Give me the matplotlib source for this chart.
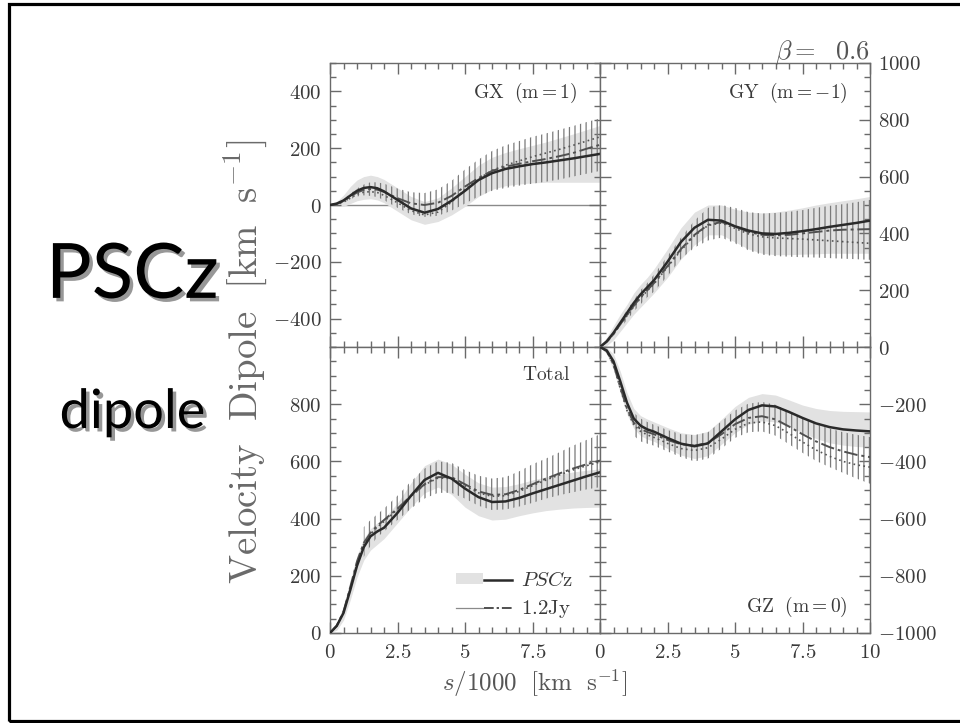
import numpy as np
import matplotlib
matplotlib.use("Agg")
import matplotlib.pyplot as plt
from matplotlib.ticker import FixedLocator, MultipleLocator, FixedFormatter
from matplotlib.legend_handler import HandlerTuple
from matplotlib.patches import Patch, Rectangle
from matplotlib.lines import Line2D
import matplotlib.patheffects as pe

nan = np.nan

# distance grid s/1000 [km/s]
S = [0, 0.25, 0.5, 0.75, 1, 1.25, 1.5, 1.75, 2, 2.5, 3, 3.5, 4, 4.5, 5,
     5.5, 6, 6.5, 7, 7.5, 8, 8.5, 9, 9.5, 10]

# ---- GX (m=1)
gx_pscz = [0, 5, 16, 33, 50, 60, 63, 59, 48, 18, -12, -27, -14, 15, 50, 88, 112, 127, 136, 144, 150, 157, 164, 172, 180]
gx_pscz_hi = [0, 12, 35, 65, 88, 100, 105, 100, 90, 60, 30, 12, 25, 60, 100, 140, 168, 185, 198, 210, 222, 236, 250, 265, 280]
gx_pscz_lo = [0, -5, -5, 5, 15, 20, 22, 18, 8, -22, -52, -68, -58, -35, -5, 30, 55, 68, 74, 78, 80, 80, 80, 80, 80]
gx_jy = [0, 4, 14, 30, 44, 53, 56, 54, 46, 24, 6, 0, 8, 32, 65, 95, 120, 135, 145, 154, 162, 172, 183, 198, 212]
gx_jy_hi = [nan, nan, 20, 40, 58, 72, 80, 80, 75, 58, 45, 42, 55, 85, 125, 160, 190, 210, 225, 240, 252, 265, 278, 292, 305]
gx_jy_lo = [nan, nan, 8, 20, 30, 34, 32, 28, 17, -10, -33, -42, -38, -20, 5, 30, 50, 60, 68, 75, 82, 90, 100, 110, 120]
gx_dot = [0, 3, 10, 24, 38, 45, 47, 44, 34, 8, -20, -35, -25, 10, 55, 92, 122, 140, 155, 170, 183, 196, 210, 225, 240]

# ---- GY (m=-1)
gy_pscz = [0, 20, 50, 85, 120, 155, 185, 210, 235, 300, 370, 420, 448, 445, 425, 410, 400, 398, 402, 408, 415, 423, 430, 437, 445]
gy_pscz_hi = [0, 35, 75, 115, 150, 190, 220, 245, 275, 345, 420, 475, 500, 500, 485, 475, 472, 475, 482, 490, 500, 508, 515, 522, 530]
gy_pscz_lo = [0, 5, 25, 55, 85, 115, 140, 165, 190, 245, 310, 360, 395, 395, 370, 345, 330, 325, 325, 327, 328, 330, 330, 330, 330]
gy_jy = [0, 18, 45, 80, 112, 145, 175, 200, 225, 285, 345, 395, 430, 440, 425, 405, 395, 393, 395, 400, 405, 410, 413, 414, 415]
gy_jy_hi = [nan, nan, nan, 95, 130, 165, 200, 225, 255, 320, 385, 445, 490, 500, 490, 475, 470, 472, 476, 482, 490, 497, 503, 510, 518]
gy_jy_lo = [nan, nan, nan, 65, 95, 125, 150, 175, 195, 250, 310, 350, 375, 385, 365, 340, 325, 320, 318, 316, 315, 313, 311, 309, 307]
gy_dot = [0, 18, 45, 80, 110, 142, 172, 198, 222, 282, 340, 392, 428, 437, 418, 398, 388, 384, 382, 380, 377, 374, 371, 368, 365]

# ---- Total
tot_pscz = [0, 25, 70, 150, 235, 300, 338, 355, 368, 420, 480, 535, 560, 540, 505, 475, 458, 460, 472, 488, 503, 518, 533, 548, 562]
tot_pscz_hi = [0, 35, 95, 185, 270, 330, 365, 385, 400, 455, 525, 585, 608, 590, 555, 525, 510, 512, 522, 535, 546, 555, 563, 569, 574]
tot_pscz_lo = [0, 10, 45, 115, 195, 255, 290, 310, 330, 385, 440, 490, 510, 485, 440, 410, 395, 398, 410, 420, 428, 433, 437, 439, 440]
tot_jy = [0, 25, 75, 160, 250, 315, 350, 375, 395, 435, 480, 520, 545, 545, 520, 495, 483, 485, 500, 520, 540, 558, 575, 590, 603]
tot_jy_hi = [nan, nan, nan, nan, nan, 370, 395, 415, 435, 480, 530, 575, 600, 595, 570, 550, 540, 545, 565, 590, 610, 632, 655, 675, 695]
tot_jy_lo = [nan, nan, nan, nan, nan, 265, 305, 335, 355, 395, 435, 470, 490, 490, 470, 445, 430, 432, 442, 455, 470, 482, 492, 502, 510]
tot_dot = [0, 25, 72, 155, 245, 310, 345, 370, 390, 432, 478, 518, 542, 540, 515, 490, 478, 480, 495, 515, 535, 553, 570, 585, 598]

# ---- GZ (m=0)
gz_pscz = [0, -12, -50, -120, -195, -250, -275, -288, -296, -318, -338, -347, -337, -295, -253, -220, -204, -208, -227, -248, -267, -280, -288, -292, -295]
gz_pscz_hi = [0, -2, -25, -85, -160, -215, -240, -252, -262, -282, -300, -306, -295, -253, -208, -176, -163, -168, -185, -203, -215, -222, -225, -226, -227]
gz_pscz_lo = [0, -25, -80, -160, -235, -285, -310, -322, -330, -355, -378, -390, -380, -340, -300, -270, -258, -262, -278, -300, -320, -335, -343, -348, -350]
gz_jy = [0, -15, -60, -140, -215, -265, -287, -297, -305, -325, -340, -345, -335, -305, -270, -248, -242, -253, -278, -305, -330, -350, -365, -377, -385]
gz_jy_hi = [nan, nan, nan, nan, nan, -230, -250, -262, -272, -290, -305, -308, -298, -260, -222, -198, -192, -202, -225, -250, -270, -285, -298, -307, -315]
gz_jy_lo = [nan, nan, nan, nan, nan, -310, -330, -338, -345, -365, -385, -400, -390, -355, -318, -298, -295, -310, -340, -370, -398, -420, -440, -460, -478]
gz_dot = [0, -15, -62, -145, -222, -272, -295, -307, -316, -337, -355, -362, -352, -322, -288, -266, -262, -275, -302, -332, -360, -382, -400, -412, -420]

panel_labels = [r"$\mathrm{GX\ \ (m{=}1)}$", r"$\mathrm{GY\ \ (m{=}{-}1)}$",
                r"$\mathrm{Total}$", r"$\mathrm{GZ\ \ (m{=}0)}$"]
legend_labels = [r"$PSC\mathrm{z}$", r"$\mathrm{1.2Jy}$"]
x_ticks = [0, 2.5, 5, 7.5, 10]
x_ticklabels_left = ["0", "2.5", "5", "7.5", ""]
x_ticklabels_right = ["0", "2.5", "5", "7.5", "10"]
y_ticks_tl = [-400, -200, 0, 200, 400]
y_ticks_bl = [0, 200, 400, 600, 800]
y_ticks_tr = [0, 200, 400, 600, 800, 1000]
y_ticks_br = [-1000, -800, -600, -400, -200]

plt.rcParams["mathtext.fontset"] = "cm"
plt.rcParams["font.family"] = ["DejaVu Serif"]
plt.rcParams["hatch.linewidth"] = 0.9
plt.rcParams["hatch.color"] = "#7a7a7a"

SPINE = "#6a6a6a"
TXT = "#3a3a3a"
BAND = "#e2e2e2"

fig = plt.figure(figsize=(9.6, 7.23), dpi=100, facecolor="white")

W, H = 960.0, 723.0
def pos(x0, x1, ytop, ybot):
    return [x0 / W, 1 - ybot / H, (x1 - x0) / W, (ybot - ytop) / H]

ax_tl = fig.add_axes(pos(330, 600, 63, 347))
ax_tr = fig.add_axes(pos(600, 870, 63, 347))
ax_bl = fig.add_axes(pos(330, 600, 347, 633))
ax_br = fig.add_axes(pos(600, 870, 347, 633))

def mlab(v):
    if isinstance(v, str):
        return r"$%s$" % v if v else ""
    return r"$%g$" % v

def draw(ax, p, plo, phi, j, jlo, jhi, d):
    s = np.array(S, float)
    ax.fill_between(s, plo, phi, color=BAND, lw=0, zorder=1)
    jl = np.array(jlo, float); jh = np.array(jhi, float)
    ok = np.isfinite(jl)
    ax.fill_between(s[ok], jl[ok], jh[ok], facecolor="none", edgecolor="#7a7a7a",
                    hatch="|||", lw=0, zorder=2)
    ax.plot(s, d, color="#555555", lw=1.2, ls=(0, (1, 2)), zorder=3)
    ax.plot(s, j, color="#505050", lw=1.4, dashes=(7, 2, 1.5, 2), zorder=4)
    ax.plot(s, p, color="#2a2a2a", lw=1.8, zorder=5)

def style(ax, ylim, yticks, xlabels, right, show_x):
    ax.set_xlim(0, 10)
    ax.set_ylim(*ylim)
    ax.xaxis.set_major_locator(FixedLocator(x_ticks))
    ax.xaxis.set_minor_locator(MultipleLocator(0.5))
    ax.yaxis.set_major_locator(FixedLocator(yticks))
    ax.yaxis.set_minor_locator(MultipleLocator(50))
    ax.xaxis.set_major_formatter(FixedFormatter([mlab(v) for v in xlabels]))
    ax.yaxis.set_major_formatter(FixedFormatter([mlab(v) for v in yticks]))
    for sp in ax.spines.values():
        sp.set_color(SPINE)
        sp.set_linewidth(1.0)
    ax.tick_params(which="both", direction="in", top=True, bottom=True, left=True,
                   right=True, color=SPINE, width=1.0, labelcolor=TXT, labelsize=15)
    ax.tick_params(which="major", length=8)
    ax.tick_params(which="minor", length=4)
    ax.tick_params(axis="x", pad=7, labelbottom=show_x)
    if right:
        ax.tick_params(axis="y", labelleft=False, labelright=True, pad=6)
    else:
        ax.tick_params(axis="y", labelleft=True, labelright=False, pad=6)

draw(ax_tl, gx_pscz, gx_pscz_lo, gx_pscz_hi, gx_jy, gx_jy_lo, gx_jy_hi, gx_dot)
ax_tl.axhline(0, color="#8a8a8a", lw=1.0, zorder=0)
draw(ax_tr, gy_pscz, gy_pscz_lo, gy_pscz_hi, gy_jy, gy_jy_lo, gy_jy_hi, gy_dot)
draw(ax_bl, tot_pscz, tot_pscz_lo, tot_pscz_hi, tot_jy, tot_jy_lo, tot_jy_hi, tot_dot)
draw(ax_br, gz_pscz, gz_pscz_lo, gz_pscz_hi, gz_jy, gz_jy_lo, gz_jy_hi, gz_dot)

style(ax_tl, (-500, 500), y_ticks_tl, x_ticklabels_left, False, False)
style(ax_tr, (0, 1000), y_ticks_tr, x_ticklabels_right, True, False)
style(ax_bl, (0, 1000), y_ticks_bl, x_ticklabels_left, False, True)
style(ax_br, (-1000, 0), y_ticks_br, x_ticklabels_right, True, True)

kw = dict(ha="right", va="center", fontsize=14, color=TXT)
ax_tl.text(0.918, 0.894, panel_labels[0], transform=ax_tl.transAxes, **kw)
ax_tr.text(0.918, 0.894, panel_labels[1], transform=ax_tr.transAxes, **kw)
ax_bl.text(0.889, 0.902, panel_labels[2], transform=ax_bl.transAxes, **kw)
ax_br.text(0.918, 0.091, panel_labels[3], transform=ax_br.transAxes, **kw)

h1 = (Patch(facecolor=BAND, edgecolor="none"), Line2D([], [], color="#2a2a2a", lw=1.8))
h2 = (Line2D([], [], color="#8a8a8a", lw=0.9), Line2D([], [], color="#505050", lw=1.4, dashes=(5, 1.5, 1.2, 1.5)))
leg = ax_bl.legend([h1, h2], legend_labels, handler_map={tuple: HandlerTuple(ndivide=None, pad=0.05)},
                   loc="lower right", bbox_to_anchor=(0.93, 0.015), frameon=False,
                   handlelength=2.7, handletextpad=0.45, labelspacing=0.4, fontsize=15,
                   borderaxespad=0.0, handleheight=0.45)
for t in leg.get_texts():
    t.set_color(TXT)

fig.text(0.256, 0.50, r"$\mathrm{Velocity\ \ Dipole\ \ [km\ \ s^{-1}]}$", rotation=90,
         ha="center", va="center", fontsize=28, color="#6a6a6a")
fig.text(0.557, 0.055, r"$s/\mathrm{1000\ \ [km\ \ s^{-1}]}$", ha="center", va="center",
         fontsize=18, color="#555555")
fig.text(0.906, 0.918, r"$\beta\mathrm{=\ \ 0.6}$", ha="right", va="baseline",
         fontsize=19, color="#555555")

shadow = [pe.withSimplePatchShadow(offset=(2.5, -2.5), shadow_rgbFace="#8c8c8c", alpha=0.9)]
fig.text(0.138, 0.588, "PSCz", fontfamily="Lato", fontsize=55, ha="center",
         va="baseline", color="black", path_effects=shadow)
fig.text(0.138, 0.408, "dipole", fontfamily="Lato", fontsize=39, ha="center",
         va="baseline", color="black", path_effects=shadow)

fig.add_artist(Rectangle((9 / W, 1 - 720.5 / H), (964 - 9) / W, (720.5 - 4) / H,
                         transform=fig.transFigure, fill=False, edgecolor="black",
                         linewidth=2.3, clip_on=False))

fig.savefig("out.png", dpi=100, facecolor="white")
